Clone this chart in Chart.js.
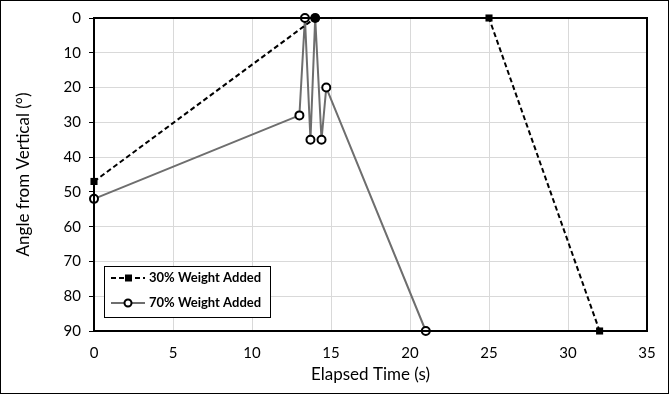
<!DOCTYPE html>
<html>
<head>
<meta charset="utf-8">
<script src="https://cdn.jsdelivr.net/npm/chart.js@4"></script>
<style>
  body { margin: 0; background: #fff; }
  #wrap { width: 669px; height: 394px; position: relative; }
</style>
</head>
<body>
<div id="wrap"><canvas id="angleChart" width="669" height="394"></canvas></div>
<script>
// data
const time30 = [0, 14, 25, 32];
const angle30 = [47, 0, 0, 90];
const time70 = [0, 13, 13.35, 13.7, 14, 14.4, 14.7, 21];
const angle70 = [52, 28, 0, 35, 0, 35, 20, 90];
const seriesNames = ['30% Weight Added', '70% Weight Added'];

const fontFam = "Lato, 'Open Sans', sans-serif";

const frame = {
    id: 'frame',
    afterDraw(chart) {
        const ctx = chart.ctx;
        const a = chart.chartArea;
        ctx.save();
        ctx.strokeStyle = '#000';
        ctx.lineWidth = 2;
        ctx.strokeRect(a.left, a.top, a.right - a.left, a.bottom - a.top);
        ctx.lineWidth = 1;
        ctx.strokeRect(0.5, 0.5, chart.width - 1, chart.height - 1);

        // legend box
        const lx = 104, ly = 266, lw = 166, lh = 51;
        ctx.fillStyle = '#fff';
        ctx.fillRect(lx, ly, lw, lh);
        ctx.strokeRect(lx + 0.5, ly + 0.5, lw, lh);

        const rows = [278, 303];
        // dashed sample with square
        ctx.strokeStyle = '#000';
        ctx.lineWidth = 2;
        ctx.setLineDash([5, 3]);
        ctx.beginPath();
        ctx.moveTo(111, rows[0]);
        ctx.lineTo(145, rows[0]);
        ctx.stroke();
        ctx.setLineDash([]);
        ctx.fillStyle = '#000';
        ctx.fillRect(125, rows[0] - 3.5, 7, 7);
        // solid sample with circle
        ctx.strokeStyle = '#6e6e6e';
        ctx.beginPath();
        ctx.moveTo(111, rows[1]);
        ctx.lineTo(145, rows[1]);
        ctx.stroke();
        ctx.fillStyle = '#fff';
        ctx.strokeStyle = '#000';
        ctx.beginPath();
        ctx.arc(128, rows[1], 3.5, 0, Math.PI * 2);
        ctx.fill();
        ctx.stroke();

        ctx.fillStyle = '#000';
        ctx.font = "bold 13px " + fontFam;
        ctx.textBaseline = 'middle';
        ctx.fillText(seriesNames[0], 149, rows[0]);
        ctx.fillText(seriesNames[1], 149, rows[1]);
        ctx.restore();
    }
};

const ctx = document.getElementById('angleChart').getContext('2d');
const chart = new Chart(ctx, {
    type: 'scatter',
    data: {
        datasets: [{
            label: seriesNames[0],
            data: time30.map((t, i) => ({ x: t, y: angle30[i] })),
            showLine: true,
            borderColor: '#000',
            borderWidth: 2,
            borderDash: [5, 3],
            pointStyle: 'rect',
            pointRadius: 5,
            pointBorderWidth: 0,
            pointBackgroundColor: '#000'
        }, {
            label: seriesNames[1],
            data: time70.map((t, i) => ({ x: t, y: angle70[i] })),
            showLine: true,
            borderColor: '#6e6e6e',
            borderWidth: 2,
            pointStyle: 'circle',
            pointRadius: 4,
            pointBorderWidth: 2,
            pointBorderColor: '#000',
            pointBackgroundColor: '#fff'
        }]
    },
    options: {
        responsive: false,
        animation: false,
        clip: false,
        layout: { padding: { top: 18, right: 22, left: 0, bottom: 0 } },
        plugins: { legend: { display: false }, tooltip: { enabled: false } },
        scales: {
            x: {
                type: 'linear',
                min: 0, max: 35,
                ticks: { stepSize: 5, color: '#000', padding: 13, font: { family: fontFam, size: 15 } },
                grid: { color: '#d9d9d9', drawTicks: false },
                border: { color: '#000', width: 2 },
                title: { display: true, text: 'Elapsed Time (s)', color: '#000', font: { family: fontFam, size: 17 }, padding: { top: 9, bottom: 9 } },
                afterFit(s) { s.height = 63; }
            },
            y: {
                min: 0, max: 90,
                reverse: true,
                ticks: { stepSize: 10, color: '#000', padding: 8, font: { family: fontFam, size: 15 } },
                grid: { color: '#d9d9d9', tickColor: '#000', tickLength: 5 },
                border: { color: '#000', width: 2 },
                title: { display: true, text: 'Angle from Vertical (°)', color: '#000', font: { family: fontFam, size: 17 }, padding: { top: 13, bottom: 13 } },
                afterFit(s) { s.width = 94; }
            }
        }
    },
    plugins: [frame]
});
</script>
</body>
</html>
